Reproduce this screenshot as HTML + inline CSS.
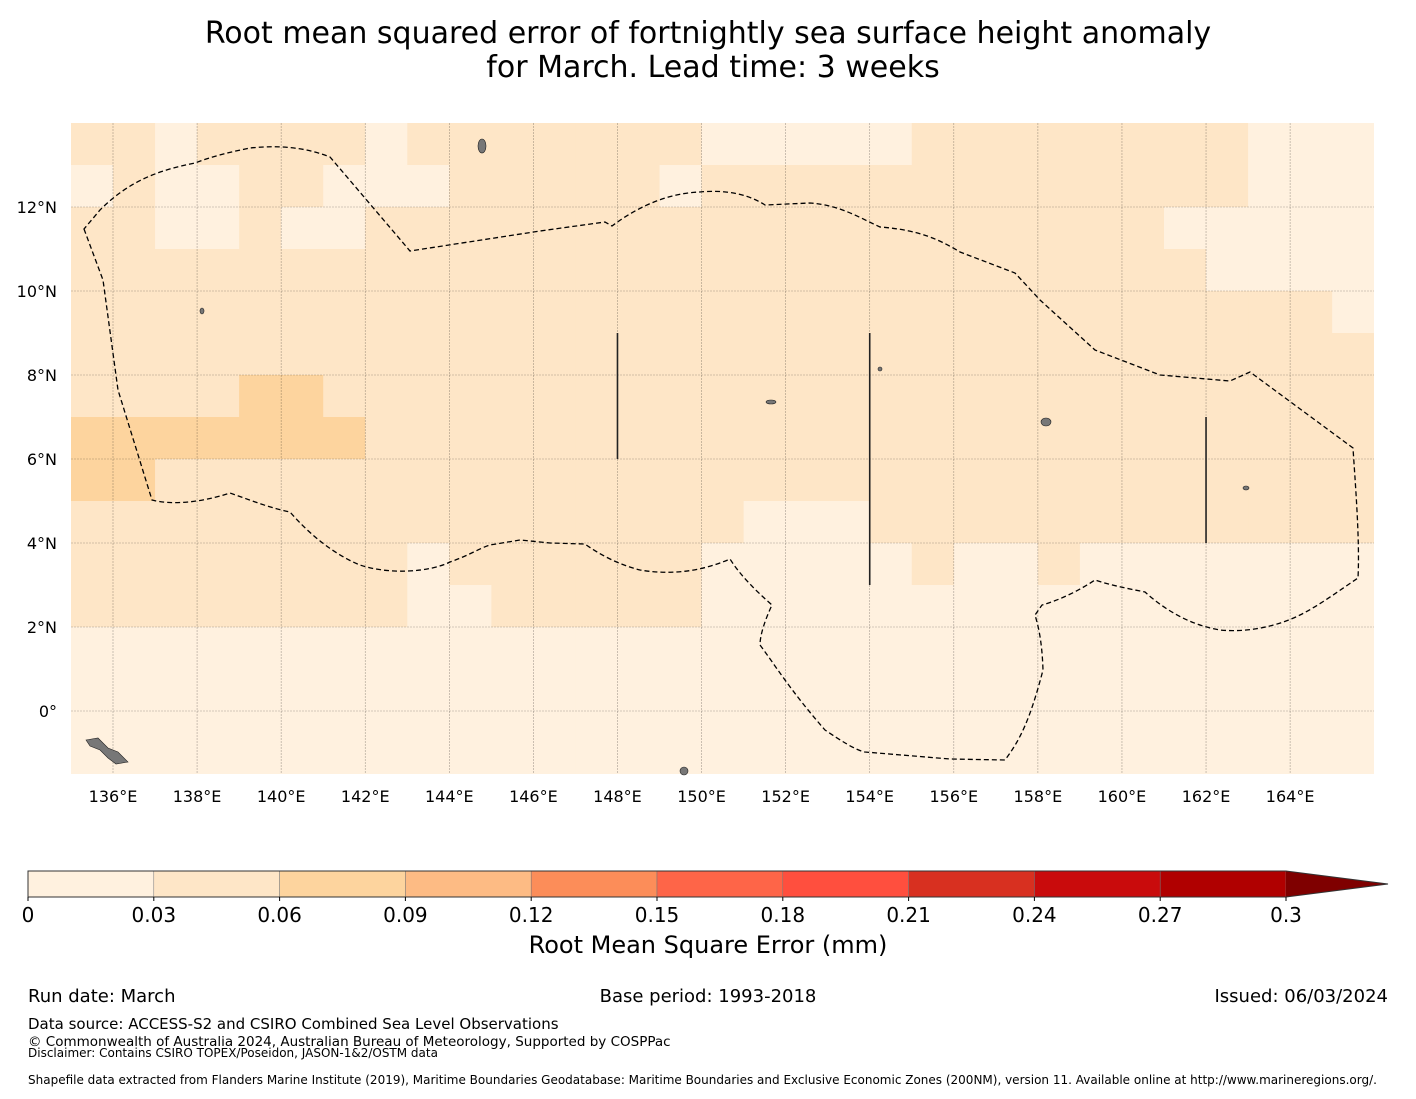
<!DOCTYPE html>
<html><head><meta charset="utf-8"><style>
body{margin:0;background:#fff;width:1416px;height:1095px;overflow:hidden;font-family:"DejaVu Sans","Liberation Sans",sans-serif;}
</style></head><body>
<svg id="svg" width="1416" height="1095" xmlns="http://www.w3.org/2000/svg" font-family="DejaVu Sans, Liberation Sans, sans-serif">
<text x="708" y="43" font-size="30" text-anchor="middle">Root mean squared error of fortnightly sea surface height anomaly</text>
<text x="713" y="77" font-size="30" text-anchor="middle">for March. Lead time: 3 weeks</text>
<g id="map"></g>
<g id="cbar"></g>
<text x="708" y="953" font-size="24" text-anchor="middle">Root Mean Square Error (mm)</text>
<text x="28" y="1002" font-size="18">Run date: March</text>
<text x="708" y="1002" font-size="18" text-anchor="middle">Base period: 1993-2018</text>
<text x="1388" y="1002" font-size="18" text-anchor="end">Issued: 06/03/2024</text>
<text x="28" y="1029" font-size="15">Data source: ACCESS-S2 and CSIRO Combined Sea Level Observations</text>
<text x="28" y="1046" font-size="13.5">© Commonwealth of Australia 2024, Australian Bureau of Meteorology, Supported by COSPPac</text>
<text x="28" y="1057" font-size="12">Disclaimer: Contains CSIRO TOPEX/Poseidon, JASON-1&amp;2/OSTM data</text>
<text x="28" y="1084" font-size="12">Shapefile data extracted from Flanders Marine Institute (2019), Maritime Boundaries Geodatabase: Maritime Boundaries and Exclusive Economic Zones (200NM), version 11. Available online at http://www.marineregions.org/.</text>
</svg>
<script>
// grid rows: latitude top edge 14 .. -1 (1° cells), columns lon 135..165
const lons=[135,136,137,138,139,140,141,142,143,144,145,146,147,148,149,150,151,152,153,154,155,156,157,158,159,160,161,162,163,164,165];
const latTops=[14,13,12,11,10,9,8,7,6,5,4,3,2,1,0,-1];
const rmseRows=[
[0.04,0.04,0.02,0.04,0.04,0.04,0.04,0.02,0.04,0.04,0.04,0.04,0.04,0.04,0.04,0.02,0.02,0.02,0.02,0.02,0.04,0.04,0.04,0.04,0.04,0.04,0.04,0.04,0.02,0.02,0.02],
[0.02,0.04,0.02,0.02,0.04,0.04,0.02,0.02,0.02,0.04,0.04,0.04,0.04,0.04,0.02,0.04,0.04,0.04,0.04,0.04,0.04,0.04,0.04,0.04,0.04,0.04,0.04,0.04,0.02,0.02,0.02],
[0.04,0.04,0.02,0.02,0.04,0.02,0.02,0.04,0.04,0.04,0.04,0.04,0.04,0.04,0.04,0.04,0.04,0.04,0.04,0.04,0.04,0.04,0.04,0.04,0.04,0.04,0.02,0.02,0.02,0.02,0.02],
[0.04,0.04,0.04,0.04,0.04,0.04,0.04,0.04,0.04,0.04,0.04,0.04,0.04,0.04,0.04,0.04,0.04,0.04,0.04,0.04,0.04,0.04,0.04,0.04,0.04,0.04,0.04,0.02,0.02,0.02,0.02],
[0.04,0.04,0.04,0.04,0.04,0.04,0.04,0.04,0.04,0.04,0.04,0.04,0.04,0.04,0.04,0.04,0.04,0.04,0.04,0.04,0.04,0.04,0.04,0.04,0.04,0.04,0.04,0.04,0.04,0.04,0.02],
[0.04,0.04,0.04,0.04,0.04,0.04,0.04,0.04,0.04,0.04,0.04,0.04,0.04,0.04,0.04,0.04,0.04,0.04,0.04,0.04,0.04,0.04,0.04,0.04,0.04,0.04,0.04,0.04,0.04,0.04,0.04],
[0.04,0.04,0.04,0.04,0.07,0.07,0.04,0.04,0.04,0.04,0.04,0.04,0.04,0.04,0.04,0.04,0.04,0.04,0.04,0.04,0.04,0.04,0.04,0.04,0.04,0.04,0.04,0.04,0.04,0.04,0.04],
[0.07,0.07,0.07,0.07,0.07,0.07,0.07,0.04,0.04,0.04,0.04,0.04,0.04,0.04,0.04,0.04,0.04,0.04,0.04,0.04,0.04,0.04,0.04,0.04,0.04,0.04,0.04,0.04,0.04,0.04,0.04],
[0.07,0.07,0.04,0.04,0.04,0.04,0.04,0.04,0.04,0.04,0.04,0.04,0.04,0.04,0.04,0.04,0.04,0.04,0.04,0.04,0.04,0.04,0.04,0.04,0.04,0.04,0.04,0.04,0.04,0.04,0.04],
[0.04,0.04,0.04,0.04,0.04,0.04,0.04,0.04,0.04,0.04,0.04,0.04,0.04,0.04,0.04,0.04,0.02,0.02,0.02,0.04,0.04,0.04,0.04,0.04,0.04,0.04,0.04,0.04,0.04,0.04,0.04],
[0.04,0.04,0.04,0.04,0.04,0.04,0.04,0.04,0.02,0.04,0.04,0.04,0.04,0.04,0.04,0.02,0.02,0.02,0.02,0.02,0.04,0.02,0.02,0.04,0.02,0.02,0.02,0.02,0.02,0.02,0.02],
[0.04,0.04,0.04,0.04,0.04,0.04,0.04,0.04,0.02,0.02,0.04,0.04,0.04,0.04,0.04,0.02,0.02,0.02,0.02,0.02,0.02,0.02,0.02,0.02,0.02,0.02,0.02,0.02,0.02,0.02,0.02],
[0.02,0.02,0.02,0.02,0.02,0.02,0.02,0.02,0.02,0.02,0.02,0.02,0.02,0.02,0.02,0.02,0.02,0.02,0.02,0.02,0.02,0.02,0.02,0.02,0.02,0.02,0.02,0.02,0.02,0.02,0.02],
[0.02,0.02,0.02,0.02,0.02,0.02,0.02,0.02,0.02,0.02,0.02,0.02,0.02,0.02,0.02,0.02,0.02,0.02,0.02,0.02,0.02,0.02,0.02,0.02,0.02,0.02,0.02,0.02,0.02,0.02,0.02],
[0.02,0.02,0.02,0.02,0.02,0.02,0.02,0.02,0.02,0.02,0.02,0.02,0.02,0.02,0.02,0.02,0.02,0.02,0.02,0.02,0.02,0.02,0.02,0.02,0.02,0.02,0.02,0.02,0.02,0.02,0.02],
[0.02,0.02,0.02,0.02,0.02,0.02,0.02,0.02,0.02,0.02,0.02,0.02,0.02,0.02,0.02,0.02,0.02,0.02,0.02,0.02,0.02,0.02,0.02,0.02,0.02,0.02,0.02,0.02,0.02,0.02,0.02]
];
const xTickLons=[136,138,140,142,144,146,148,150,152,154,156,158,160,162,164];
const yTickLats=[12,10,8,6,4,2,0];
const levels=[0,0.03,0.06,0.09,0.12,0.15,0.18,0.21,0.24,0.27,0.3];
const levelColors=["#fff1df","#fee6c7","#fdd49e","#fdbb84","#fc8d59","#fe6548","#ff4f3e","#d83020","#c90b0c","#b00000"];
const extendColor="#7f0000";

const NS="http://www.w3.org/2000/svg";
const X0=71,X1=1374,Y0=123,Y1=774;
const lonX=l=>113+(l-136)*42.04;
const latY=a=>711-a*42;
function mk(tag,attrs,parent){const e=document.createElementNS(NS,tag);for(const k in attrs)e.setAttribute(k,attrs[k]);parent.appendChild(e);return e;}
function colorFor(v){for(let i=levels.length-2;i>=0;i--)if(v>=levels[i])return levelColors[i];return levelColors[0];}
const map=document.getElementById('map');
const cp=mk('clipPath',{id:'clip'},map);
mk('rect',{x:X0,y:Y0,width:X1-X0,height:Y1-Y0},cp);
const cells=mk('g',{'clip-path':'url(#clip)'},map);


rmseRows.forEach((row,ri)=>{row.forEach((v,ci)=>{
  const x=lonX(lons[ci]),y=latY(latTops[ri]);
  const r=mk('rect',{x:x,y:y,width:lonX(lons[ci]+1)-x+0.5,height:latY(latTops[ri]-1)-y+0.5,fill:colorFor(v)},cells);
  
  
});});
xTickLons.forEach(l=>{const ln=mk('line',{x1:lonX(l),x2:lonX(l),y1:Y0,y2:Y1,stroke:'#000','stroke-opacity':0.35,'stroke-width':0.6,'stroke-dasharray':'2,1'},map);

const t=mk('text',{x:lonX(l),y:802,'font-size':16,'text-anchor':'middle'},map);t.textContent=l+'°E';
});
yTickLats.forEach(a=>{const ln=mk('line',{x1:X0,x2:X1,y1:latY(a),y2:latY(a),stroke:'#000','stroke-opacity':0.35,'stroke-width':0.6,'stroke-dasharray':'2,1'},map);

const t=mk('text',{x:57,y:latY(a)+6,'font-size':16,'text-anchor':'end'},map);t.textContent=a===0?'0°':a+'°N';
});
const eez="M84,229 L103,280 L118,390 L152,500 C170,505 200,503 230,493 C250,500 270,508 290,512 C310,535 335,555 360,565 C390,575 430,572 450,562 C470,555 480,548 490,545 L520,540 L550,543 L585,544 C600,555 620,565 640,570 C670,575 700,572 730,559 C740,575 755,590 772,605 C765,620 760,635 760,645 C775,665 790,690 825,730 C840,740 855,750 865,752 L950,759 L1005,760 C1020,740 1030,720 1043,670 C1042,640 1038,625 1035,615 L1042,605 C1060,600 1080,590 1095,580 C1110,585 1125,588 1145,592 C1165,610 1190,625 1220,630 C1250,633 1280,625 1300,615 C1320,605 1340,590 1358,578 C1360,540 1355,480 1353,448 L1250,372 L1230,381 L1160,375 L1095,350 L1040,300 L1015,273 L960,252 C940,240 920,230 880,227 C860,218 840,205 810,203 L765,205 C745,192 720,190 700,192 C670,193 640,205 612,226 L605,222 L540,231 L410,251 L330,157 C300,145 270,146 250,148 C230,152 210,157 195,163 C160,170 130,180 100,210 Z";
const b=mk('path',{d:eez,fill:'none',stroke:'#000','stroke-width':1.3,'stroke-dasharray':'5,3'},map);

[[148,6,9],[154,3,9],[162,4,7]].forEach(s=>{const l=mk('line',{x1:lonX(s[0]),x2:lonX(s[0]),y1:latY(s[2]),y2:latY(s[1]),stroke:'#222','stroke-width':1.6},map);
});
[[482,146,4,7],[1046,422,5,4],[1246,488,3,2],[202,311,2,3],[771,402,5,2],[880,369,2,2],[684,771,4,4]].forEach(p=>{const e=mk('ellipse',{cx:p[0],cy:p[1],rx:p[2],ry:p[3],fill:'#777',stroke:'#222','stroke-width':0.6},map);
});
const ng=mk('path',{d:'M86,740 L98,738 L108,748 L118,752 L128,762 L116,764 L108,758 L100,750 L90,746 Z',fill:'#777',stroke:'#222','stroke-width':0.6},map);

const cb=document.getElementById('cbar');const CX0=28,CX1=1286,CY=871,CH=26,step=(CX1-CX0)/(levels.length-1);
levelColors.forEach((c,i)=>{const r=mk('rect',{x:CX0+i*step,y:CY,width:step,height:CH,fill:c,stroke:'#777','stroke-width':0.5},cb);
});
const tri=mk('polygon',{points:`${CX1},${CY} ${CX1+102},${CY+CH/2} ${CX1},${CY+CH}`,fill:extendColor},cb);

mk('path',{d:`M${CX0},${CY} H${CX1} L${CX1+102},${CY+CH/2} L${CX1},${CY+CH} H${CX0} Z`,fill:'none',stroke:'#333','stroke-width':1},cb);
levels.forEach((v,i)=>{const x=CX0+i*step;mk('line',{x1:x,x2:x,y1:CY+CH,y2:CY+CH+4,stroke:'#000'},cb);
const t=mk('text',{x:x,y:922,'font-size':20,'text-anchor':'middle'},cb);t.textContent=String(v);
});
</script>
</body></html>
